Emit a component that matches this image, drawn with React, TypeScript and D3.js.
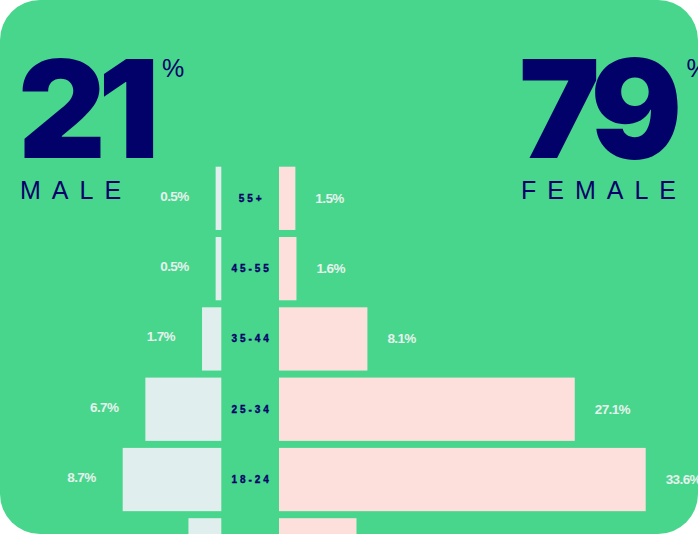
import { useRef, useEffect } from "react";
import * as d3 from "d3";

const ageGroups = ["55+", "45-55", "35-44", "25-34", "18-24", "13-17"];
const malePct = [0.5, 0.5, 1.7, 6.7, 8.7, 2.9];
const femalePct = [1.5, 1.6, 8.1, 27.1, 33.6, 7.1];
const maleTotal = 21;
const femaleTotal = 79;

const GREEN = "#48d68c";
const NAVY = "#020069";
const MALE_BAR = "#e0eeee";
const FEMALE_BAR = "#fde0dc";
const LABEL = "#e6f1ee";

export default function App() {
  const ref = useRef<SVGSVGElement>(null);
  const width = 698;
  const height = 534;

  useEffect(() => {
    if (!ref.current) return;
    const svg = d3.select(ref.current);
    svg.selectAll("*").remove();

    svg.append("rect").attr("width", width).attr("height", height).attr("fill", "#fff");
    svg.append("rect").attr("width", width).attr("height", height).attr("rx", 40).attr("ry", 40).attr("fill", GREEN);

    const maleEdge = 221.3;
    const femaleEdge = 279;
    const mid = (maleEdge + femaleEdge) / 2;

    const y = d3.scaleBand().domain(ageGroups).range([166.7, 166.7 + 70.3 * 5.9]).paddingInner(0.1).paddingOuter(0);
    // each side has its own scale, as in the source graphic
    const xm = d3.scaleLinear().domain([0, 8.7]).range([0, 98.6]);
    const xf = d3.scaleLinear().domain([0, 33.6]).range([0, 366.7]);

    const rows = ageGroups.map((g, i) => ({ g, m: malePct[i], f: femalePct[i] }));
    const shown = rows.filter(d => y(d.g)! + y.bandwidth() / 2 < height - 6);
    const g = svg.append("g");

    g.selectAll(".male").data(rows).enter().append("rect")
      .attr("x", d => maleEdge - xm(d.m)).attr("y", d => y(d.g)!)
      .attr("width", d => xm(d.m)).attr("height", y.bandwidth()).attr("fill", MALE_BAR);
    g.selectAll(".female").data(rows).enter().append("rect")
      .attr("x", femaleEdge).attr("y", d => y(d.g)!)
      .attr("width", d => xf(d.f)).attr("height", y.bandwidth()).attr("fill", FEMALE_BAR);

    const labelFont = "'Liberation Sans', Arial, sans-serif";
    g.selectAll(".mlab").data(shown).enter().append("text")
      .attr("x", d => maleEdge - xm(d.m) - 27).attr("y", d => y(d.g)! + y.bandwidth() / 2 - 2)
      .attr("text-anchor", "end").attr("dominant-baseline", "central")
      .attr("font-family", labelFont).attr("font-weight", 700).attr("font-size", 13.5)
      .attr("letter-spacing", -0.6).attr("fill", LABEL).text(d => `${d.m}%`);
    g.selectAll(".flab").data(shown).enter().append("text")
      .attr("x", d => femaleEdge + xf(d.f) + 20).attr("y", d => y(d.g)! + y.bandwidth() / 2)
      .attr("text-anchor", "start").attr("dominant-baseline", "central")
      .attr("font-family", labelFont).attr("font-weight", 700).attr("font-size", 13.5)
      .attr("letter-spacing", -0.6).attr("fill", LABEL).text(d => `${d.f}%`);
    g.selectAll(".cat").data(shown).enter().append("text")
      .attr("x", mid + 1.5).attr("y", d => y(d.g)! + y.bandwidth() / 2)
      .attr("text-anchor", "middle").attr("dominant-baseline", "central")
      .attr("font-family", labelFont).attr("font-weight", 700).attr("font-size", 10)
      .attr("stroke", NAVY).attr("stroke-width", 0.35)
      .attr("letter-spacing", 2.9).attr("fill", NAVY).text(d => d.g);

    const bigFont = "Inter, 'Liberation Sans', sans-serif";
    const heads = [
      { v: maleTotal, label: "MALE", x: 18 },
      { v: femaleTotal, label: "FEMALE", x: 519 },
    ];
    heads.forEach(h => {
      const t = svg.append("text").attr("x", h.x).attr("y", 157.5)
        .attr("font-family", bigFont).attr("font-weight", 900).attr("font-size", 136)
        .attr("letter-spacing", -8).attr("fill", NAVY).text(h.v);
      const bb = (t.node() as SVGTextElement).getBBox();
      svg.append("text").attr("x", bb.x + bb.width + 8).attr("y", 77)
        .attr("font-family", labelFont).attr("font-size", 25)
        .attr("fill", NAVY).text("%");
      svg.append("text").attr("x", h.x + 2).attr("y", 199)
        .attr("font-family", labelFont).attr("font-size", 25)
        .attr("letter-spacing", 11).attr("fill", NAVY).text(h.label);
    });
  }, []);

  return (
    <svg ref={ref} width={width} height={height}
      style={{ position: "fixed", left: 0, top: 0, display: "block" }} />
  );
}
